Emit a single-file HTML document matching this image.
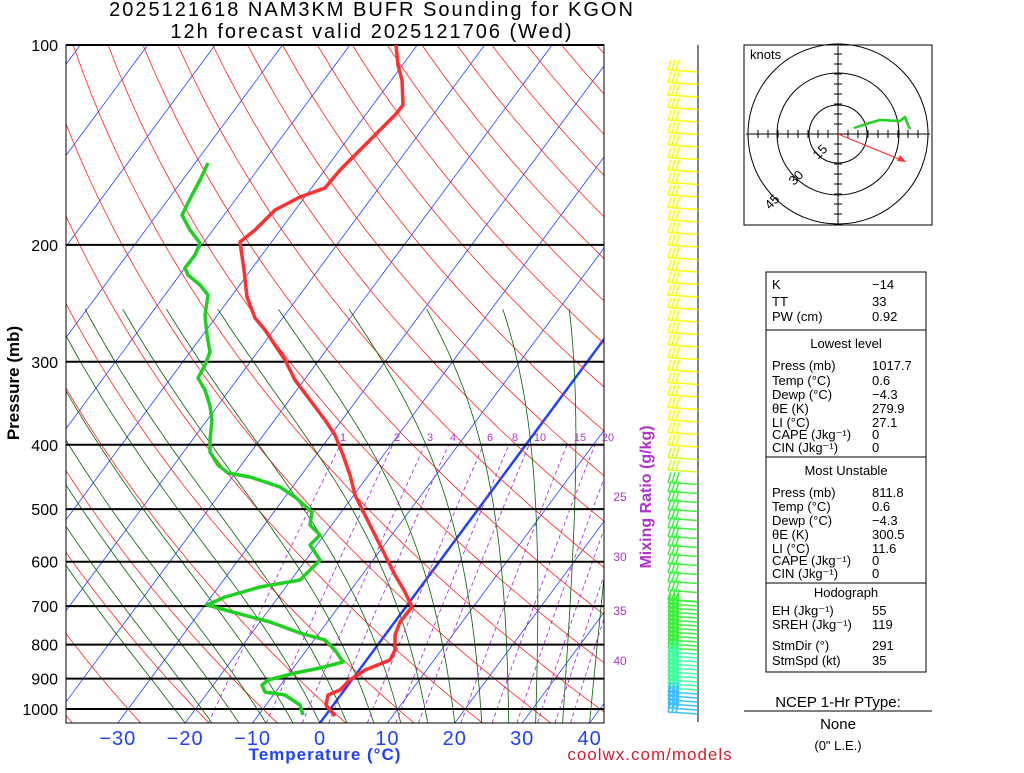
<!DOCTYPE html>
<html><head><meta charset="utf-8"><style>
body{margin:0;background:#fff;width:1024px;height:768px;overflow:hidden;font-family:"Liberation Sans",sans-serif}
svg text{font-family:"Liberation Sans",sans-serif}
</style></head><body>
<svg id="s" width="1024" height="768" xmlns="http://www.w3.org/2000/svg">
<defs><clipPath id="c"><rect x="66" y="45" width="538" height="678"/></clipPath></defs>
<g id="bg" clip-path="url(#c)"></g>
<g id="fg"></g>
<text x="372" y="16" font-size="20" letter-spacing="2" text-anchor="middle">2025121618 NAM3KM BUFR Sounding for KGON</text>
<text x="372" y="38" font-size="20" letter-spacing="2" text-anchor="middle">12h forecast valid 2025121706 (Wed)</text>
<text transform="translate(19,383) rotate(-90)" font-size="17" font-weight="bold" text-anchor="middle">Pressure (mb)</text>
<text x="325" y="760" font-size="17" font-weight="bold" letter-spacing="1" fill="#2040ff" text-anchor="middle">Temperature (°C)</text>
<text x="650" y="760" font-size="17" letter-spacing="1" fill="#d02030" text-anchor="middle">coolwx.com/models</text>
<text transform="translate(651,497) rotate(-90)" font-size="16" font-weight="bold" fill="#b030d0" text-anchor="middle">Mixing Ratio (g/kg)</text>
<rect x="744" y="45" width="188" height="180" fill="none" stroke="#000"/>
<text x="750" y="59" font-size="13">knots</text>
<rect x="766" y="272" width="160" height="400" fill="none" stroke="#000"/>
<line x1="766" y1="330" x2="926" y2="330" stroke="#000"/>
<line x1="766" y1="457" x2="926" y2="457" stroke="#000"/>
<line x1="766" y1="583" x2="926" y2="583" stroke="#000"/>
<line x1="744" y1="711" x2="932" y2="711" stroke="#000"/>
<text x="838" y="707" font-size="15" text-anchor="middle">NCEP 1-Hr PType:</text>
<text x="838" y="729" font-size="15" text-anchor="middle">None</text>
<text x="838" y="750" font-size="13" text-anchor="middle">(0" L.E.)</text>
<g id="tb" font-size="13"></g>
</svg>
<script>
const NS="http://www.w3.org/2000/svg";
const bg=document.getElementById('bg'),fg=document.getElementById('fg'),tb=document.getElementById('tb');
function el(p,t,a,txt){const e=document.createElementNS(NS,t);for(const k in a)e.setAttribute(k,a[k]);if(txt!=null)e.textContent=txt;p.appendChild(e);return e;}
const Y=p=>45+664*Math.log10(p/100);
const X=(T,p)=>320+6.74*T+0.74*(723-Y(p));
function pl(par,pts,col,w,dash){el(par,'polyline',{points:pts.map(q=>q[0].toFixed(1)+','+q[1].toFixed(1)).join(' '),fill:'none',stroke:col,'stroke-width':w||1,'stroke-dasharray':dash||'none','stroke-linejoin':'round'});}
for(let T=-160;T<=40;T+=10){pl(bg,[[X(T,1050),Y(1050)],[X(T,100),Y(100)]],'#2040ff',T==0?2.5:0.8);}
for(let th=-40;th<=220;th+=10){let pts=[];for(let p=1050;p>=100;p-=10){let T=(th+273.15)*Math.pow(p/1000,0.286)-273.15;pts.push([X(T,p),Y(p)]);}pl(bg,pts,'#ff2020',0.8);}
function es(T){return 6.112*Math.exp(17.67*T/(T+243.5));}
function gm(T,p){const Tk=T+273.15,w=0.622*es(T)/(p-es(T)),L=2.5e6,Rd=287,cp=1004;return (Rd*Tk+L*w)/(cp+L*L*w*0.622/(Rd*Tk*Tk))/p;}
for(let T0=-20;T0<=40;T0+=4){let T=T0,pts=[];for(let p=1050;p>=250;p-=5){pts.push([X(T,p),Y(p)]);T-=gm(T,p)*5;}pl(bg,pts,'#006000',0.8);}
function Tw(w,p){const e=w*p/(622+w);const l=Math.log(e/6.112);return 243.5*l/(17.67-l);}
[1,2,3,4,6,8,10,15,20,25,30,35,40].forEach(w=>{let pts=[];for(let p=1050;p>=400;p-=10)pts.push([X(Tw(w,p),p),Y(p)]);pl(bg,pts,'#b030d0',0.9,'4,3');});
[100,200,300,400,500,600,700,800,900,1000].forEach(p=>{el(fg,'line',{x1:66,y1:Y(p),x2:604,y2:Y(p),stroke:'#000','stroke-width':2});el(fg,'text',{x:58,y:Y(p)+6,'font-size':16,'text-anchor':'end'},p);});
el(fg,'rect',{x:66,y:45,width:538,height:678,fill:'none',stroke:'#000','stroke-width':1});
[-30,-20,-10,0,10,20,30,40].forEach((t,i)=>el(fg,'text',{x:320+6.74*t,y:745,'font-size':20,'letter-spacing':1,fill:'#2040ff','text-anchor':'middle'},t<0?'\u2212'+(-t):t));
[[1,343],[2,397],[3,430],[4,453],[6,490],[8,515],[10,540],[15,580],[20,608]].forEach(a=>el(fg,'text',{x:a[1],y:441,'font-size':11,fill:'#b030d0','text-anchor':'middle'},a[0]));
[[25,497],[30,557],[35,611],[40,661]].forEach(a=>el(fg,'text',{x:620,y:a[1]+4,'font-size':12,fill:'#b030d0','text-anchor':'middle'},a[0]));
const tr=[[335,716],[326,705],[328,695],[340,690],[350,680],[365,670],[390,660],[395,650],[395,635],[400,622],[412,607],[405,592],[395,575],[385,555],[375,535],[365,515],[355,495],[350,475],[343,455],[335,435],[325,420],[310,400],[295,380],[285,360],[275,345],[265,330],[255,318],[247,297],[244,270],[240,242],[255,230],[275,210],[300,197],[325,188],[340,170],[360,150],[380,130],[395,115],[403,105],[402,80],[398,65],[396,45]];
pl(fg,tr,'#ff3030',3.5);
const dw=[[303,715],[300,705],[285,695],[265,692],[262,685],[268,680],[280,677],[295,673],[320,668],[343,662],[335,650],[325,640],[300,633],[270,622],[225,610],[207,605],[225,597],[260,587],[300,580],[310,570],[320,560],[310,545],[320,535],[310,525],[312,512],[295,497],[280,487],[250,477],[228,473],[218,465],[210,452],[210,440],[212,420],[210,406],[205,390],[198,378],[205,365],[210,352],[207,335],[205,315],[208,295],[200,285],[188,275],[185,268],[195,255],[200,243],[190,230],[182,215],[192,195],[200,180],[208,163]];
pl(fg,dw,'#20d020',3.5);
el(fg,'line',{x1:698,y1:45,x2:698,y2:722,stroke:'#000'});
let ys=[];for(let y=70;y<600;y+=(y<480?12.5:9))ys.push(y);for(let y=600;y<716;y+=4)ys.push(y);
ys.forEach(y=>{let c=y<450?'#ffff00':y<480?'#d0ff20':y<650?'#40f040':y<690?'#40ffa0':'#40c0ff';
el(fg,'line',{x1:668,y1:y,x2:698,y2:y+2,stroke:c,'stroke-width':1.5});
for(let k=0;k<3;k++)el(fg,'line',{x1:668+k*4,y1:y,x2:671+k*4,y2:y-10,stroke:c,'stroke-width':1.5});});
const hx=838,hy=134;
[15,30,45].forEach((r,i)=>el(fg,'circle',{cx:hx,cy:hy,r:[29,61,90][i],fill:'none',stroke:'#000'}));
el(fg,'line',{x1:746,y1:hy,x2:930,y2:hy,stroke:'#000'});el(fg,'line',{x1:hx,y1:46,x2:hx,y2:224,stroke:'#000'});
for(let d=-90;d<=90;d+=10){el(fg,'line',{x1:hx+d,y1:hy-4,x2:hx+d,y2:hy+4,stroke:'#000'});el(fg,'line',{x1:hx-4,y1:hy+d,x2:hx+4,y2:hy+d,stroke:'#000'});}
el(fg,'text',{x:818,y:160,'font-size':13,transform:'rotate(-45 818 160)'},'15');
el(fg,'text',{x:794,y:186,'font-size':13,transform:'rotate(-45 794 186)'},'30');
el(fg,'text',{x:770,y:210,'font-size':13,transform:'rotate(-45 770 210)'},'45');
el(fg,'line',{x1:838,y1:134,x2:906,y2:162,stroke:'#ff3030','stroke-width':1.2});
el(fg,'polygon',{points:'906,162 897,161 900,155',fill:'#ff3030'});
pl(fg,[[854,128],[866,124],[880,120],[900,121],[905,117],[908,125],[910,129]],'#20d020',2.5);
const rows=[[772,289,'K'],[872,289,'\u221214'],[772,306,'TT'],[872,306,'33'],[772,321,'PW (cm)'],[872,321,'0.92'],
[846,348,'Lowest level','m'],[772,370,'Press (mb)'],[872,370,'1017.7'],[772,385,'Temp (°C)'],[872,385,'0.6'],[772,399,'Dewp (°C)'],[872,399,'\u22124.3'],[772,413,'θE (K)'],[872,413,'279.9'],[772,427,'LI (°C)'],[872,427,'27.1'],[772,439,'CAPE (Jkg\u207B\u00B9)'],[872,439,'0'],[772,452,'CIN (Jkg\u207B\u00B9)'],[872,452,'0'],
[846,475,'Most Unstable','m'],[772,497,'Press (mb)'],[872,497,'811.8'],[772,511,'Temp (°C)'],[872,511,'0.6'],[772,525,'Dewp (°C)'],[872,525,'\u22124.3'],[772,539,'θE (K)'],[872,539,'300.5'],[772,553,'LI (°C)'],[872,553,'11.6'],[772,565,'CAPE (Jkg\u207B\u00B9)'],[872,565,'0'],[772,578,'CIN (Jkg\u207B\u00B9)'],[872,578,'0'],
[846,597,'Hodograph','m'],[772,615,'EH (Jkg\u207B\u00B9)'],[872,615,'55'],[772,629,'SREH (Jkg\u207B\u00B9)'],[872,629,'119'],[772,650,'StmDir (°)'],[872,650,'291'],[772,665,'StmSpd (kt)'],[872,665,'35']];
rows.forEach(r=>el(tb,'text',{x:r[0],y:r[1],'text-anchor':r[3]?'middle':'start'},r[2]));
</script>
</body></html>
